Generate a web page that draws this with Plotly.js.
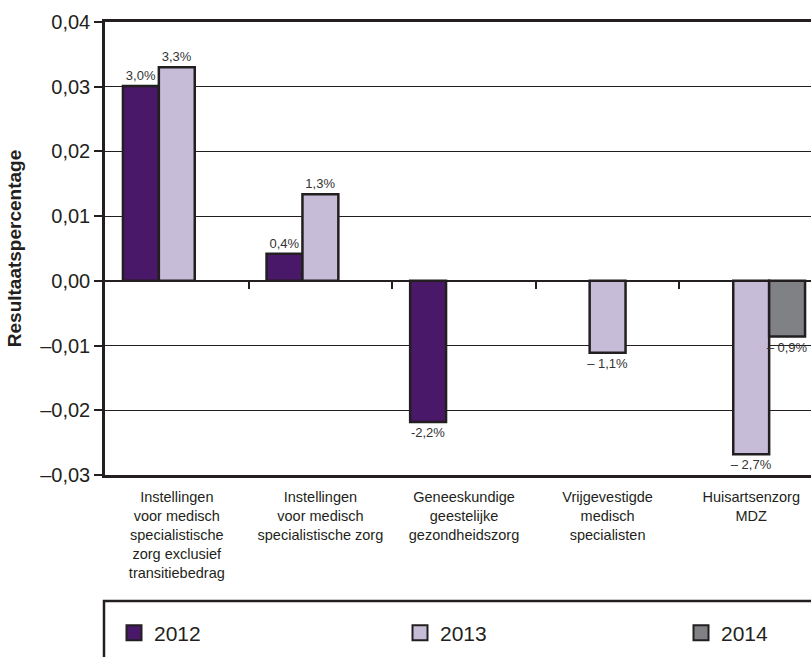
<!DOCTYPE html>
<html>
<head>
<meta charset="utf-8">
<script src="https://cdn.plot.ly/plotly-3.0.1.min.js"></script>
<style>
  html, body { margin: 0; padding: 0; overflow: hidden; background: #fff; }
  #chart { width: 1000px; height: 657px; }
</style>
</head>
<body>
<div id="chart"></div>
<script>
// ---- data ----
const categories = [
  "Instellingen<br>voor medisch<br>specialistische<br>zorg exclusief<br>transitiebedrag",
  "Instellingen<br>voor medisch<br>specialistische zorg",
  "Geneeskundige<br>geestelijke<br>gezondheidszorg",
  "Vrijgevestigde<br>medisch<br>specialisten",
  "Huisartsenzorg<br>MDZ"
];
const seriesNames = ["2012", "2013", "2014"];
const values2012 = [0.0301, 0.0042, -0.0218, null, null];
const values2013 = [0.0330, 0.0134, null, -0.0111, -0.0268];
const values2014 = [null, null, null, null, -0.0086];
const labels2012 = ["3,0%", "0,4%", "-2,2%", "", ""];
const labels2013 = ["3,3%", "1,3%", "", "– 1,1%", "– 2,7%"];
const labels2014 = ["", "", "", "", "– 0,9%"];
const yTickVals = [-0.03, -0.02, -0.01, 0.00, 0.01, 0.02, 0.03, 0.04];
const yTickText = ["–0,03", "–0,02", "–0,01", "0,00", "0,01", "0,02", "0,03", "0,04"];
const yTitle = "Resultaatspercentage";

// ---- styles ----
const colors = ["#4a1869", "#c6bcd7", "#808184"];
const ink = "#231f20";
const font = "Liberation Sans, Arial, sans-serif";
const legendIds = ["legend", "legend2", "legend3"];
const legendX = [0.114, 0.400, 0.681];

const allValues = [values2012, values2013, values2014];
const allLabels = [labels2012, labels2013, labels2014];

const traces = [];
seriesNames.forEach((name, i) => {
  traces.push({
    type: "bar",
    name: name,
    x: categories,
    y: allValues[i],
    text: allLabels[i],
    textposition: "outside",
    constraintext: "none",
    cliponaxis: false,
    textfont: { family: font, size: 13, color: "#333" },
    marker: { color: colors[i], line: { color: ink, width: 2.5 } },
    showlegend: false,
    hoverinfo: "x+y"
  });
});
// legend entries (larger square swatches), one legend per year
seriesNames.forEach((name, i) => {
  traces.push({
    type: "scatter",
    mode: "markers",
    name: name,
    legend: legendIds[i],
    x: [null],
    y: [null],
    marker: { symbol: "square", size: 15, color: colors[i], line: { color: ink, width: 2 } },
    showlegend: true,
    hoverinfo: "skip"
  });
});
// boundary ticks on the zero line
const boundaries = categories.slice(1).map((_, i) => i + 0.5);
traces.push({
  type: "scatter", mode: "markers", x: [null], y: [null],
  xaxis: "x2", yaxis: "y", showlegend: false, hoverinfo: "skip"
});

const yRange = [yTickVals[0], yTickVals[yTickVals.length - 1]];
const zeroPos = (0 - yRange[0]) / (yRange[1] - yRange[0]);

const layout = {
  width: 1000,
  height: 657,
  margin: { l: 105, r: 177, t: 22, b: 182 },
  paper_bgcolor: "#fff",
  plot_bgcolor: "#fff",
  font: { family: font, color: ink },
  barmode: "group",
  bargap: 0.25,
  bargroupgap: 0,
  xaxis: {
    type: "category",
    range: [-0.5, categories.length - 0.5],
    showgrid: false,
    zeroline: false,
    showline: true,
    mirror: true,
    linecolor: ink,
    linewidth: 2.5,
    ticks: "",
    tickfont: { family: font, size: 14.5, color: ink },
    ticklabelstandoff: 7
  },
  xaxis2: {
    overlaying: "x",
    anchor: "free",
    position: zeroPos,
    side: "bottom",
    type: "linear",
    range: [-0.5, categories.length - 0.5],
    tickmode: "array",
    tickvals: boundaries,
    ticks: "outside",
    ticklen: 7,
    tickwidth: 1.5,
    tickcolor: ink,
    showticklabels: false,
    showgrid: false,
    zeroline: false,
    showline: false
  },
  yaxis: {
    range: yRange,
    tickmode: "array",
    tickvals: yTickVals,
    ticktext: yTickText,
    showgrid: true,
    gridcolor: ink,
    gridwidth: 1,
    zeroline: true,
    zerolinecolor: ink,
    zerolinewidth: 2,
    showline: true,
    linecolor: ink,
    linewidth: 2.5,
    ticks: "outside",
    ticklen: 8,
    tickwidth: 1.5,
    tickcolor: ink,
    tickfont: { family: font, size: 20, color: ink },
    title: { text: "<b>" + yTitle + "</b>", font: { family: font, size: 19, color: ink }, standoff: 14 }
  },
  showlegend: true,
  shapes: [{
    type: "rect", xref: "paper", yref: "paper",
    x0: -0.0014, x1: 1.2, y0: -0.278, y1: -0.6,
    line: { color: ink, width: 2.5 }, fillcolor: "rgba(0,0,0,0)", layer: "below"
  }]
};
legendIds.forEach((id, i) => {
  layout[id] = {
    orientation: "h",
    xref: "container",
    yref: "container",
    x: legendX[i],
    xanchor: "left",
    y: (657 - 633) / 657,
    yanchor: "middle",
    font: { family: font, size: 21, color: ink },
    bgcolor: "rgba(0,0,0,0)",
    borderwidth: 0,
    itemclick: false,
    itemdoubleclick: false
  };
});

Plotly.newPlot("chart", traces, layout, { displayModeBar: false });
</script>
</body>
</html>
